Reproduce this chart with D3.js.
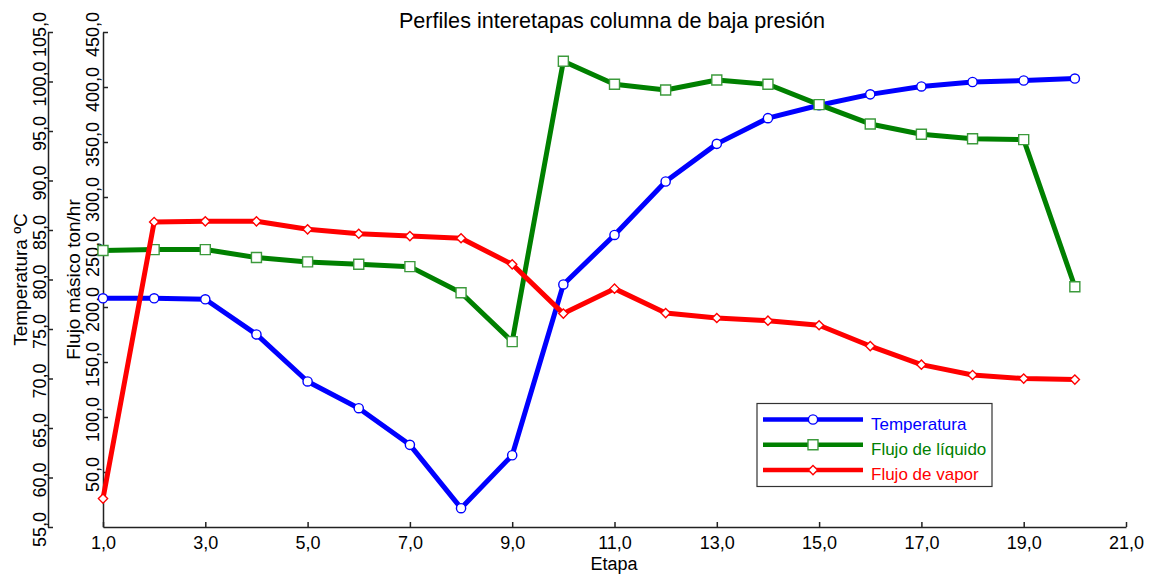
<!DOCTYPE html>
<html>
<head>
<meta charset="utf-8">
<script src="https://cdn.jsdelivr.net/npm/d3@7"></script>
<style>
  html, body { margin: 0; padding: 0; background: #ffffff; }
  svg { display: block; font-family: "Liberation Sans", Arial, Helvetica, sans-serif; }
</style>
</head>
<body>
<svg id="chart" width="1151" height="575"></svg>
<script>
// Stage profiles of the low-pressure column
const etapas = [1, 2, 3, 4, 5, 6, 7, 8, 9, 10, 11, 12, 13, 14, 15, 16, 17, 18, 19, 20];
const temperatura = [78.1, 78.1, 78.0, 74.45, 69.7, 67.0, 63.3, 56.9, 62.25, 79.5,
                     84.5, 89.9, 93.7, 96.3, 97.6, 98.7, 99.5, 99.95, 100.1, 100.3];
const flujoLiquido = [251.3, 252.2, 252.2, 245.0, 241.0, 238.8, 236.7, 212.9, 168.5, 423.4,
                      402.5, 397.3, 406.4, 402.5, 384.0, 366.4, 357.0, 352.9, 352.2, 218.4];
const flujoVapor = [25.8, 277.3, 277.9, 277.9, 270.6, 266.6, 264.5, 262.5, 238.8, 194.0,
                    216.7, 194.5, 190.0, 187.6, 183.4, 164.5, 147.6, 138.2, 134.9, 134.0];

const xTicks = [1, 3, 5, 7, 9, 11, 13, 15, 17, 19, 21];
const tempTicks = [55, 60, 65, 70, 75, 80, 85, 90, 95, 100, 105];
const flowTicks = [50, 100, 150, 200, 250, 300, 350, 400, 450];

const seriesNames = ["Temperatura", "Flujo de líquido", "Flujo de vapor"];
const seriesColors = ["#0000ff", "#008000", "#ff0000"];
const markerStrokes = ["#0000ff", "#3c9a3c", "#ff0000"];

const titleText = "Perfiles interetapas columna de baja presión";
const xTitle = "Etapa";
const tempTitle = "Temperatura ºC";
const flowTitle = "Flujo másico ton/hr";

// number format with decimal comma
const fmt = d3.formatLocale({ decimal: ",", thousands: ".", grouping: [3], currency: ["", ""] }).format(".1f");

const svg = d3.select("#chart");
const axisColor = "#222";

const x = d3.scaleLinear().domain([1, 21]).range([103, 1126]);
const yT = d3.scaleLinear().domain([55, 105]).range([527, 32]);
const yF = d3.scaleLinear().domain([0, 450]).range([527, 32]);

// title
svg.append("text")
  .attr("x", 612).attr("y", 28)
  .attr("text-anchor", "middle")
  .attr("font-size", 21.6)
  .attr("fill", "#000")
  .text(titleText);

// x axis (ticks point inward)
const gx = svg.append("g").attr("transform", `translate(0,${yT.range()[0]})`);
gx.call(d3.axisBottom(x).tickValues(xTicks).tickSizeInner(-5).tickSizeOuter(0).tickFormat(fmt));
gx.select(".domain").attr("stroke", axisColor).attr("stroke-width", 1.5);
gx.selectAll(".tick line").attr("stroke", axisColor).attr("stroke-width", 1.5);
gx.selectAll(".tick text")
  .attr("y", 22).attr("dy", 0)
  .attr("font-size", 18).attr("font-family", null).attr("fill", "#000");

svg.append("text")
  .attr("x", 614).attr("y", 570)
  .attr("text-anchor", "middle")
  .attr("font-size", 18).attr("fill", "#000")
  .text(xTitle);

// vertical axes with rotated tick labels
function verticalAxis(scale, ticks, axisX, labelX) {
  const g = svg.append("g").attr("transform", `translate(${axisX},0)`);
  g.call(d3.axisRight(scale).tickValues(ticks).tickSizeInner(5).tickSizeOuter(0).tickFormat(fmt));
  g.select(".domain").attr("stroke", axisColor).attr("stroke-width", 1.5);
  g.selectAll(".tick line").attr("stroke", axisColor).attr("stroke-width", 1.5);
  g.selectAll(".tick text").remove();
  g.selectAll(".tick").append("text")
    .attr("transform", `translate(${labelX - axisX},2) rotate(-90)`)
    .attr("text-anchor", "middle")
    .attr("font-size", 18)
    .attr("fill", "#000")
    .text(d => fmt(d));
  return g;
}
verticalAxis(yT, tempTicks, 48, 46);
verticalAxis(yF, flowTicks, 103, 99);

svg.append("text")
  .attr("transform", `translate(27,${(yT.range()[0] + yT.range()[1]) / 2}) rotate(-90)`)
  .attr("text-anchor", "middle")
  .attr("font-size", 19).attr("fill", "#000")
  .text(tempTitle);

svg.append("text")
  .attr("transform", `translate(80,${(yF.range()[0] + yF.range()[1]) / 2}) rotate(-90)`)
  .attr("text-anchor", "middle")
  .attr("font-size", 19).attr("fill", "#000")
  .text(flowTitle);

// marker shapes: circle, square, square-proportioned diamond
const rhombus = {
  draw(ctx, size) {
    const r = Math.sqrt(size / 2);
    ctx.moveTo(0, -r); ctx.lineTo(r, 0); ctx.lineTo(0, r); ctx.lineTo(-r, 0); ctx.closePath();
  }
};
const markerPaths = [
  d3.symbol().type(d3.symbolCircle).size(Math.PI * 4.6 * 4.6),
  d3.symbol().type(d3.symbolSquare).size(10 * 10),
  d3.symbol().type(rhombus).size(2 * 4.6 * 4.6)
];

const series = [
  { values: temperatura, y: yT },
  { values: flujoLiquido, y: yF },
  { values: flujoVapor, y: yF }
];

series.forEach((s, i) => {
  const pts = etapas.map((e, k) => [x(e), s.y(s.values[k])]);
  svg.append("path")
    .attr("d", d3.line()(pts))
    .attr("fill", "none")
    .attr("stroke", seriesColors[i])
    .attr("stroke-width", 5)
    .attr("stroke-linejoin", "round")
    .attr("stroke-linecap", "round");
  svg.append("g").selectAll("path")
    .data(pts)
    .join("path")
    .attr("transform", d => `translate(${d[0]},${d[1]})`)
    .attr("d", markerPaths[i]())
    .attr("fill", "#fff")
    .attr("stroke", markerStrokes[i])
    .attr("stroke-width", 1.4);
});

// legend
const lg = svg.append("g");
lg.append("rect")
  .attr("x", 757).attr("y", 403.5)
  .attr("width", 235).attr("height", 83)
  .attr("fill", "#fff")
  .attr("stroke", "#333").attr("stroke-width", 1.2);
seriesNames.forEach((name, i) => {
  const cy = 419.5 + i * 25.3;
  lg.append("line")
    .attr("x1", 763).attr("x2", 863)
    .attr("y1", cy).attr("y2", cy)
    .attr("stroke", seriesColors[i]).attr("stroke-width", 4.5);
  lg.append("path")
    .attr("transform", `translate(813,${cy})`)
    .attr("d", markerPaths[i]())
    .attr("fill", "#fff")
    .attr("stroke", markerStrokes[i]).attr("stroke-width", 1.4);
  lg.append("text")
    .attr("x", 871).attr("y", cy + 10)
    .attr("font-size", 17)
    .attr("fill", seriesColors[i])
    .text(name);
});
</script>
</body>
</html>
